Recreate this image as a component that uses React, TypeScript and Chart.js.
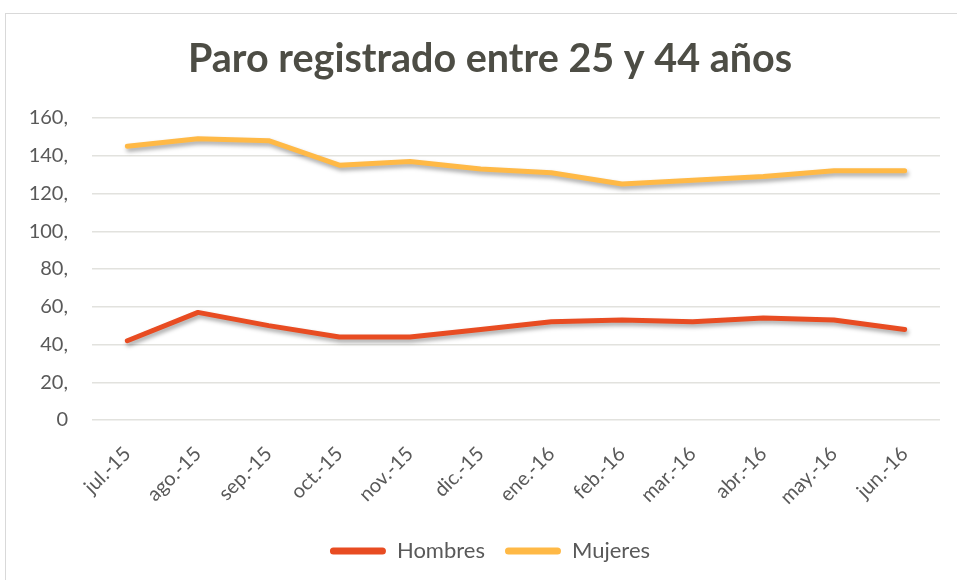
import React, { useEffect, useRef } from "react";
import { Chart, registerables } from "chart.js";

Chart.register(...registerables);

const categories = ["jul.-15", "ago.-15", "sep.-15", "oct.-15", "nov.-15", "dic.-15", "ene.-16", "feb.-16", "mar.-16", "abr.-16", "may.-16", "jun.-16"];
const hombres = [42, 57, 50, 44, 44, 48, 52, 53, 52, 54, 53, 48];
const mujeres = [145, 149, 148, 135, 137, 133, 131, 125, 127, 129, 132, 132];
const yTickLabels = ["0", "20,", "40,", "60,", "80,", "100,", "120,", "140,", "160,"];
const titleText = "Paro registrado entre 25 y 44 años";

const textColor = "#595959";
const FONT = "Lato, 'Open Sans', sans-serif";

const shadowPlugin = {
  id: "lineShadow",
  beforeDatasetDraw(chart: any) {
    const ctx = chart.ctx;
    ctx.save();
    ctx.shadowColor = "rgba(0,0,0,0.35)";
    ctx.shadowBlur = 4;
    ctx.shadowOffsetX = 1.5;
    ctx.shadowOffsetY = 3;
  },
  afterDatasetDraw(chart: any) {
    chart.ctx.restore();
  },
};

export default function App() {
  const ref = useRef<HTMLCanvasElement | null>(null);

  useEffect(() => {
    if (!ref.current) return;
    const chart = new Chart(ref.current, {
      type: "line",
      data: {
        labels: categories,
        datasets: [
          {
            label: "Hombres",
            data: hombres,
            borderColor: "#E84C22",
            backgroundColor: "#E84C22",
            borderWidth: 5,
            pointRadius: 0,
            borderCapStyle: "round",
            borderJoinStyle: "round",
            tension: 0,
          },
          {
            label: "Mujeres",
            data: mujeres,
            borderColor: "#FFB946",
            backgroundColor: "#FFB946",
            borderWidth: 5,
            pointRadius: 0,
            borderCapStyle: "round",
            borderJoinStyle: "round",
            tension: 0,
          },
        ],
      },
      options: {
        responsive: false,
        animation: false,
        layout: { padding: { left: 23, right: 0, top: 0, bottom: 8 } },
        plugins: {
          title: {
            display: true,
            text: titleText,
            color: "#4D4D45",
            font: { family: FONT, size: 39.5, weight: "bold", lineHeight: 1.2 },
            padding: { top: 36, bottom: 34.6 },
          },
          legend: {
            position: "bottom",
            labels: {
              color: textColor,
              font: { family: FONT, size: 22 },
              boxWidth: 56,
              boxHeight: 7,
              useBorderRadius: true,
              borderRadius: 3.5,
              padding: 20,
              generateLabels(chart: any) {
                return chart.data.datasets.map((ds: any, i: number) => ({
                  text: ds.label,
                  fillStyle: ds.borderColor,
                  strokeStyle: ds.borderColor,
                  lineWidth: 0,
                  fontColor: textColor,
                  hidden: false,
                  datasetIndex: i,
                  borderRadius: 3.5,
                }));
              },
            },
          },
          tooltip: { enabled: false },
        },
        scales: {
          x: {
            offset: true,
            grid: { display: false, drawTicks: false },
            border: { display: false },
            ticks: {
              color: textColor,
              font: { family: FONT, size: 20 },
              minRotation: 45,
              maxRotation: 45,
              padding: 22,
              autoSkip: false,
            },
            afterFit(scale: any) {
              scale.height = 100;
            },
          },
          y: {
            min: 0,
            max: 160,
            grid: { color: "#E2E2DE", lineWidth: 1.5, drawTicks: false },
            border: { display: false },
            ticks: {
              stepSize: 20,
              color: textColor,
              font: { family: FONT, size: 20 },
              padding: 24,
              callback: (v: any) => yTickLabels[Math.round(Number(v) / 20)],
            },
            afterFit(scale: any) {
              scale.width = 69;
            },
          },
          yRight: {
            position: "right",
            min: 0,
            max: 160,
            grid: { drawOnChartArea: false, drawTicks: false },
            border: { display: false },
            ticks: { display: false },
            afterFit(scale: any) {
              scale.width = 17;
            },
          },
        },
      },
      plugins: [shadowPlugin],
    });
    return () => chart.destroy();
  }, []);

  return (
    <div style={{ position: "fixed", left: 0, top: 0, width: 957, height: 580, background: "#fff", overflow: "hidden" }}>
      <div style={{ position: "absolute", left: 5, top: 13, width: 1000, height: 1000, border: "1px solid #D9D9D9" }} />
      <canvas ref={ref} width={957} height={580} style={{ position: "absolute", left: 0, top: 0 }} />
    </div>
  );
}
